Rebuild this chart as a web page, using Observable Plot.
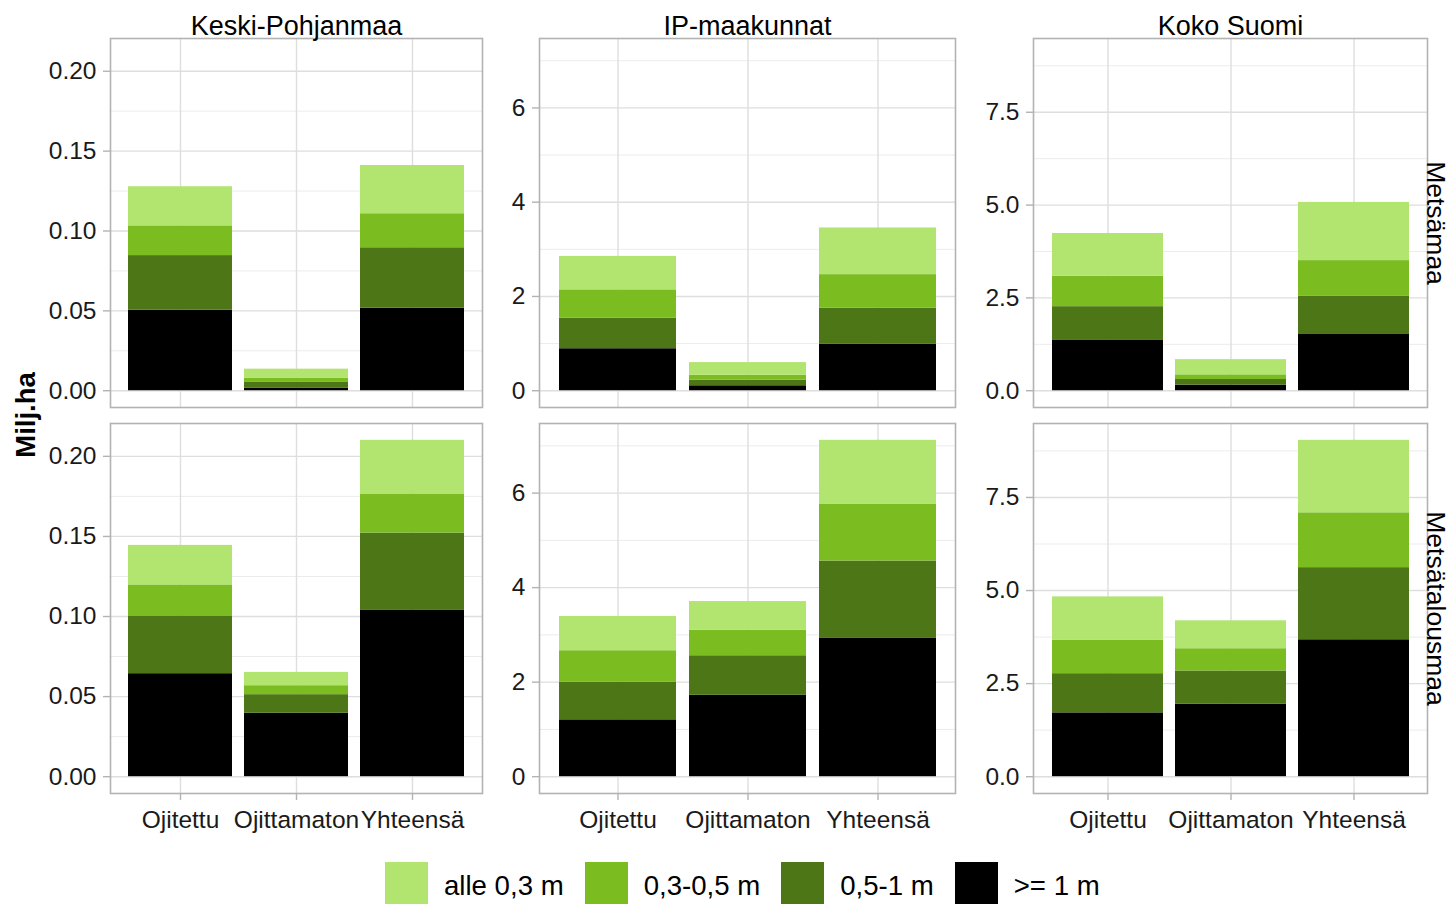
<!DOCTYPE html>
<html>
<head>
<meta charset="utf-8">
<script src="https://cdn.jsdelivr.net/npm/d3@7"></script>
<script src="https://cdn.jsdelivr.net/npm/@observablehq/plot@0.6"></script>
<style>
html, body { margin: 0; padding: 0; background: #fff; }
#chart { position: relative; width: 1450px; height: 904px; overflow: hidden; background: #fff;
  font-family: "Liberation Sans", Arial, sans-serif; color: #000; }
.panel { position: absolute; }
.panel svg { overflow: visible; }
#ylabel { position: absolute; left: 0; top: 0; }
#legend { position: absolute; left: 385px; top: 862px; height: 43px; display: flex; align-items: center;
  font-size: 27.6px; color: #000; }
.sw { width: 43px; height: 43px; margin-right: 16px; flex: none; }
.lt { margin-right: 21px; position: relative; top: 2px; white-space: nowrap; }
</style>
</head>
<body>
<div id="chart"></div>
<script>
// ---------------- data ----------------
const regions = ["Keski-Pohjanmaa", "IP-maakunnat", "Koko Suomi"];
const landTypes = ["Metsämaa", "Metsätalousmaa"];
const drainage = ["Ojitettu", "Ojittamaton", "Yhteensä"];
// legend order (top of stack first)
const depthClasses = ["alle 0,3 m", "0,3-0,5 m", "0,5-1 m", ">= 1 m"];
const depthColors = ["#b1e56f", "#7bbd21", "#4d7617", "#000000"];
// stacking order, bottom to top; value rows below follow this order
const stackOrder = [">= 1 m", "0,5-1 m", "0,3-0,5 m", "alle 0,3 m"];

// Milj. ha, rows = drainage, columns = stackOrder
const kpMetsamaa = [
  [0.0504, 0.0342, 0.0186, 0.0245],
  [0.0015, 0.0037, 0.0027, 0.0056],
  [0.0517, 0.0378, 0.0213, 0.0302]
];
const kpMetsatalousmaa = [
  [0.0643, 0.0361, 0.0193, 0.0247],
  [0.0396, 0.0116, 0.0056, 0.0083],
  [0.1041, 0.0480, 0.0244, 0.0335]
];
const ipMetsamaa = [
  [0.891, 0.646, 0.603, 0.710],
  [0.105, 0.120, 0.105, 0.267],
  [0.990, 0.764, 0.709, 0.990]
];
const ipMetsatalousmaa = [
  [1.203, 0.793, 0.669, 0.724],
  [1.722, 0.837, 0.542, 0.604],
  [2.925, 1.638, 1.197, 1.357]
];
const ksMetsamaa = [
  [1.354, 0.910, 0.821, 1.150],
  [0.150, 0.152, 0.126, 0.409],
  [1.514, 1.027, 0.964, 1.567]
];
const ksMetsatalousmaa = [
  [1.714, 1.053, 0.893, 1.170],
  [1.945, 0.894, 0.598, 0.750],
  [3.678, 1.937, 1.473, 1.947]
];

const yTicks = [
  [0, 0.05, 0.10, 0.15, 0.20],
  [0, 2, 4, 6],
  [0, 2.5, 5, 7.5]
];
const yTickFormats = [".2f", "d", ".1f"];

const panelValues = [
  [kpMetsamaa, kpMetsatalousmaa],
  [ipMetsamaa, ipMetsatalousmaa],
  [ksMetsamaa, ksMetsatalousmaa]
];

// ---------------- layout ----------------
const colX = [[110, 482], [539, 955], [1033, 1427]];
const rowY = [[38, 407], [423, 793]];
const ML = 75, MR = 30, MT = 40, MB = 45;
const FONT = '"Liberation Sans", Arial, sans-serif';

function toRows(table) {
  const out = [];
  table.forEach((vals, i) => vals.forEach((v, j) => out.push({drainage: drainage[i], depth: stackOrder[j], value: v})));
  return out;
}

const chart = document.getElementById("chart");

regions.forEach((region, c) => {
  const tables = panelValues[c];
  const maxTotal = d3.max(tables.flat(), row => d3.sum(row));
  const domain = [-0.05 * maxTotal, 1.05 * maxTotal];
  const major = yTicks[c];
  const step = major[1] - major[0];
  const minor = major.map(t => t + step / 2).filter(t => t <= domain[1]);
  const fmt = d3.format(yTickFormats[c]);

  landTypes.forEach((land, r) => {
    const [x0, x1] = colX[c];
    const [y0, y1] = rowY[r];
    const width = ML + (x1 - x0) + MR;
    const height = MT + (y1 - y0) + MB;
    const marks = [
      Plot.gridY({ticks: minor, stroke: "#ececec", strokeOpacity: 1, strokeWidth: 1}),
      Plot.gridY({ticks: major, stroke: "#dedede", strokeOpacity: 1, strokeWidth: 1.4}),
      Plot.gridX({stroke: "#dedede", strokeOpacity: 1, strokeWidth: 1.4}),
      Plot.barY(toRows(tables[r]), {x: "drainage", y: "value", fill: "depth", order: stackOrder}),
      Plot.frame({stroke: "#b3b3b3", strokeWidth: 1.6}),
      Plot.axisY({ticks: major, tickFormat: fmt, tickSize: 7, tickPadding: 7,
        stroke: "#b3b3b3", strokeWidth: 1.4, fill: "#1a1a1a", fontSize: 24.5, label: null})
    ];
    if (r === 1) {
      marks.push(Plot.axisX({tickSize: 7, tickPadding: 9.6, stroke: "#b3b3b3", strokeWidth: 1.4,
        fill: "#1a1a1a", fontSize: 24.5, label: null}));
    }
    if (r === 0) {
      marks.push(Plot.text([region], {frameAnchor: "top", lineAnchor: "bottom", textAnchor: "middle", dy: -4,
        fontSize: 27, fill: "#000", text: d => d}));
    }
    if (c === 2) {
      marks.push(Plot.text([land], {frameAnchor: "right", rotate: 90, lineAnchor: "bottom", textAnchor: "middle",
        dx: -1, fontSize: 26.5, fill: "#000", text: d => d}));
    }
    const plot = Plot.plot({
      width, height,
      marginLeft: ML, marginRight: MR, marginTop: MT, marginBottom: MB,
      style: {background: "transparent", overflow: "visible", fontFamily: FONT, fontSize: "24.5px"},
      x: {domain: drainage, paddingInner: 0.1, paddingOuter: 0.15, ...(r === 0 ? {axis: null} : {})},
      y: {domain},
      color: {domain: depthClasses, range: depthColors},
      marks
    });
    const div = document.createElement("div");
    div.className = "panel";
    div.style.left = (x0 - ML) + "px";
    div.style.top = (y0 - MT) + "px";
    div.style.width = width + "px";
    div.style.height = height + "px";
    div.appendChild(plot);
    chart.appendChild(div);
  });
});

// y-axis title
const ns = "http://www.w3.org/2000/svg";
const ysvg = document.createElementNS(ns, "svg");
ysvg.setAttribute("id", "ylabel");
ysvg.setAttribute("width", "60");
ysvg.setAttribute("height", "904");
const yt = document.createElementNS(ns, "text");
yt.setAttribute("transform", "translate(35,415) rotate(-90)");
yt.setAttribute("text-anchor", "middle");
yt.setAttribute("font-weight", "bold");
yt.setAttribute("font-size", "27.5");
yt.setAttribute("font-family", FONT);
yt.textContent = "Milj.ha";
ysvg.appendChild(yt);
chart.appendChild(ysvg);

// legend
const legend = document.createElement("div");
legend.id = "legend";
depthClasses.forEach((d, i) => {
  const sw = document.createElement("div");
  sw.className = "sw";
  sw.style.background = depthColors[i];
  const lt = document.createElement("span");
  lt.className = "lt";
  lt.textContent = d;
  legend.appendChild(sw);
  legend.appendChild(lt);
});
chart.appendChild(legend);
</script>
</body>
</html>
